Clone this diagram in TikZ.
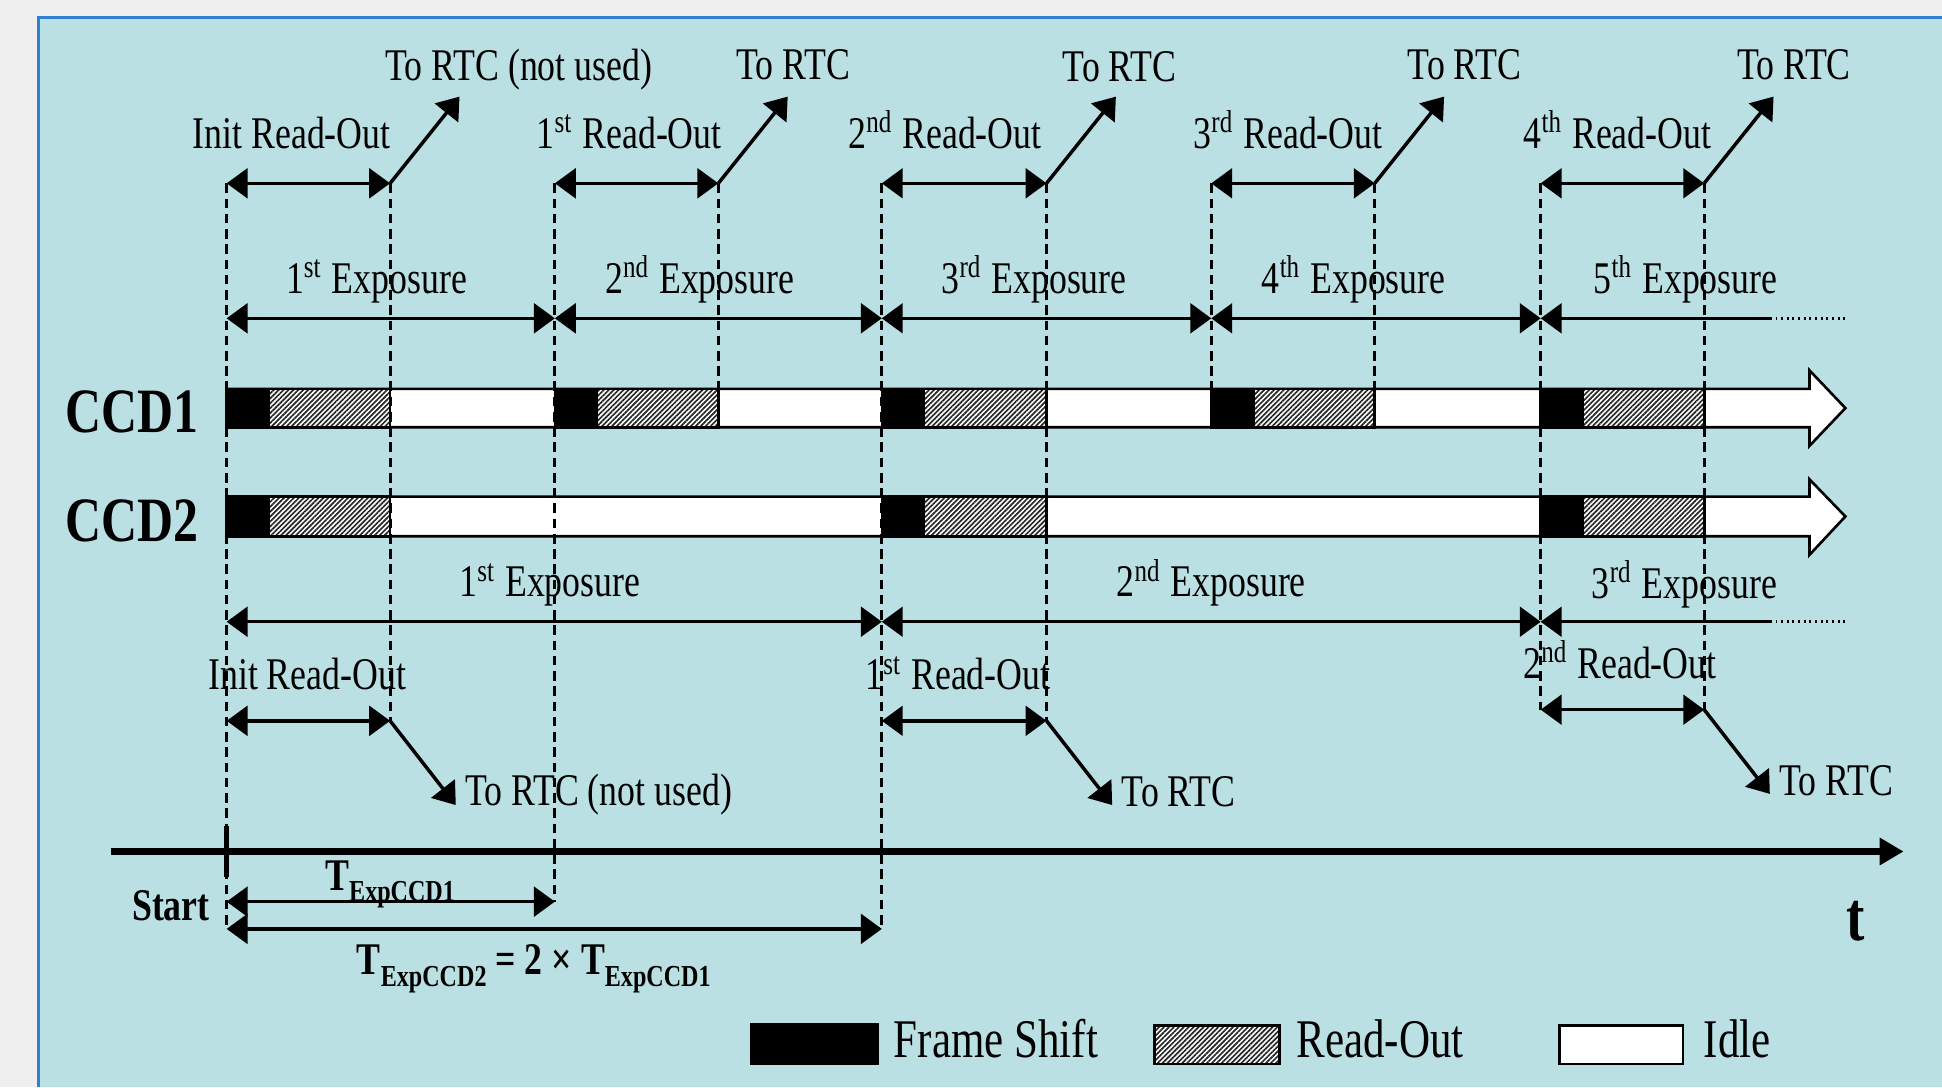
\documentclass[tikz,border=0pt]{standalone}
\usepackage{fontspec}
\setmainfont{Liberation Serif}[FakeStretch=0.79]
\usepackage{tikz}
\usetikzlibrary{arrows.meta, patterns.meta}

\definecolor{pageback}{HTML}{EFEFEF}
\definecolor{panelbg}{HTML}{BBE0E3}
\definecolor{panelline}{HTML}{2F80D0}

\newcommand{\expsub}[1]{\raisebox{-2.7pt}{\fontsize{7}{8}\selectfont #1}}

\begin{document}
\begin{tikzpicture}[
    x=0.01cm, y=-0.01cm,
    >={Triangle[length=4.8pt, width=6.8pt]},
    lbl/.style={
        anchor=base,
        inner sep=0pt,
        font=\fontsize{10.4}{12}\selectfont
    },
    boldlbl/.style={
        lbl,
        font=\fontsize{10.4}{12}\selectfont\bfseries
    },
    ccdlbl/.style={
        anchor=base east,
        inner sep=0pt,
        font=\fontsize{14.5}{17}\selectfont\bfseries
    },
    legtxt/.style={
        anchor=base west,
        inner sep=0pt,
        font=\fontsize{12.5}{15}\selectfont
    },
    span/.style={<->, line width=0.8pt},
    rtc/.style={->, line width=0.8pt},
    guide/.style={line width=0.7pt, dash pattern=on 2.2pt off 1.3pt},
    dots/.style={line width=0.7pt, dash pattern=on 0.45pt off 0.85pt},
    barline/.style={draw=black, line width=0.6pt},
    fshift/.style={barline, fill=black},
    rdout/.style={
        barline,
        preaction={fill=white},
        pattern={Lines[angle=45, distance=0.8pt, line width=0.38pt]},
        pattern color=black!85
    },
    idle/.style={barline, fill=white},
    taxis/.style={-{Triangle[length=5.5pt, width=6pt]}, line width=1.5pt}
]

% =============== FUNDO ===============
\useasboundingbox (0,0) rectangle (1568,878);
\fill[pageback] (0,0) rectangle (1568,878);
\fill[panelbg] (31,14) rectangle (1568,878);
\draw[panelline, line width=0.8pt] (31,878) -- (31,14) -- (1568,14);

% =============== CCD1 (topo) ===============

% Rótulos "To RTC"
\node[lbl] (rtc_top0) at (419,65) {To RTC (not used)};
\node[lbl] (rtc_top1) at (640.5,64) {To RTC};
\node[lbl] (rtc_top2) at (904,66) {To RTC};
\node[lbl] (rtc_top3) at (1182.5,64) {To RTC};
\node[lbl] (rtc_top4) at (1448.5,64) {To RTC};

% Rótulos das leituras
\node[lbl] (ro_top0) at (235.5,120) {Init Read-Out};
\node[lbl] (ro_top1) at (508,120) {1\textsuperscript{st} Read-Out};
\node[lbl] (ro_top2) at (763,120) {2\textsuperscript{nd} Read-Out};
\node[lbl] (ro_top3) at (1040,120) {3\textsuperscript{rd} Read-Out};
\node[lbl] (ro_top4) at (1306,120) {4\textsuperscript{th} Read-Out};

% Limites das leituras
\coordinate (a0) at (183,148);  \coordinate (b0) at (315,148);
\coordinate (a1) at (448,148);  \coordinate (b1) at (580,148);
\coordinate (a2) at (712,148);  \coordinate (b2) at (845,148);
\coordinate (a3) at (978,148);  \coordinate (b3) at (1110,148);
\coordinate (a4) at (1244,148); \coordinate (b4) at (1376,148);

% Pontas das setas para o RTC
\coordinate (up0) at (371,78);
\coordinate (up1) at (636,78);
\coordinate (up2) at (901,78);
\coordinate (up3) at (1166,78);
\coordinate (up4) at (1432,78);

\draw[span] (a0) -- (b0);
\draw[span] (a1) -- (b1);
\draw[span] (a2) -- (b2);
\draw[span] (a3) -- (b3);
\draw[span] (a4) -- (b4);

\draw[rtc] (b0) -- (up0);
\draw[rtc] (b1) -- (up1);
\draw[rtc] (b2) -- (up2);
\draw[rtc] (b3) -- (up3);
\draw[rtc] (b4) -- (up4);

% Exposições do CCD1
\node[lbl] (exp_top1) at (304,237) {1\textsuperscript{st} Exposure};
\node[lbl] (exp_top2) at (565,237) {2\textsuperscript{nd} Exposure};
\node[lbl] (exp_top3) at (835,237) {3\textsuperscript{rd} Exposure};
\node[lbl] (exp_top4) at (1093,237) {4\textsuperscript{th} Exposure};
\node[lbl] (exp_top5) at (1361,237) {5\textsuperscript{th} Exposure};

\coordinate (e0) at (183,257);
\coordinate (e1) at (448,257);
\coordinate (e2) at (712,257);
\coordinate (e3) at (978,257);
\coordinate (e4) at (1244,257);
\coordinate (e5) at (1429,257);
\coordinate (e6) at (1492,257);

\draw[span] (e0) -- (e1);
\draw[span] (e1) -- (e2);
\draw[span] (e2) -- (e3);
\draw[span] (e3) -- (e4);
\draw[<-, line width=0.8pt] (e4) -- (e5);
\draw[dots] (e5) -- (e6);

% Barra do CCD1
\node[ccdlbl] (ccd1) at (161,349) {CCD1};
\draw[idle] (183,314) -- (1461,314) -- (1461,299) -- (1490,329.5)
    -- (1461,360) -- (1461,345) -- (183,345) -- cycle;
\draw[fshift] (183,314) rectangle (217,345);
\draw[rdout] (217,314) rectangle (315,345);
\draw[fshift] (448,314) rectangle (482,345);
\draw[rdout] (482,314) rectangle (580,345);
\draw[fshift] (712,314) rectangle (746,345);
\draw[rdout] (746,314) rectangle (845,345);
\draw[fshift] (978,314) rectangle (1012,345);
\draw[rdout] (1012,314) rectangle (1110,345);
\draw[fshift] (1244,314) rectangle (1278,345);
\draw[rdout] (1278,314) rectangle (1376,345);

% =============== CCD2 (baixo) ===============

% Barra do CCD2
\node[ccdlbl] (ccd2) at (161,437) {CCD2};
\draw[idle] (183,401) -- (1461,401) -- (1461,387) -- (1490,417)
    -- (1461,448) -- (1461,433) -- (183,433) -- cycle;
\draw[fshift] (183,401) rectangle (217,433);
\draw[rdout] (217,401) rectangle (315,433);
\draw[fshift] (712,401) rectangle (746,433);
\draw[rdout] (746,401) rectangle (845,433);
\draw[fshift] (1244,401) rectangle (1278,433);
\draw[rdout] (1278,401) rectangle (1376,433);

% Exposições do CCD2
\node[lbl] (exp_bot1) at (444,482) {1\textsuperscript{st} Exposure};
\node[lbl] (exp_bot2) at (978,482) {2\textsuperscript{nd} Exposure};
\node[lbl] (exp_bot3) at (1360,483) {3\textsuperscript{rd} Exposure};

\coordinate (f0) at (183,502);
\coordinate (f1) at (712,502);
\coordinate (f2) at (1244,502);
\coordinate (f3) at (1429,502);
\coordinate (f4) at (1492,502);

\draw[span] (f0) -- (f1);
\draw[span] (f1) -- (f2);
\draw[<-, line width=0.8pt] (f2) -- (f3);
\draw[dots] (f3) -- (f4);

% Leituras do CCD2
\node[lbl] (ro_bot0) at (248,557) {Init Read-Out};
\node[lbl] (ro_bot1) at (773.5,557) {1\textsuperscript{st} Read-Out};
\node[lbl] (ro_bot2) at (1308,548) {2\textsuperscript{nd} Read-Out};

\coordinate (h0a) at (183,582);  \coordinate (h0b) at (315,582);
\coordinate (h1a) at (712,582);  \coordinate (h1b) at (845,582);
\coordinate (h2a) at (1244,573); \coordinate (h2b) at (1376,573);

\coordinate (dn0) at (368,650);
\coordinate (dn1) at (898,650);
\coordinate (dn2) at (1429,641);

\draw[span] (h0a) -- (h0b);
\draw[span] (h1a) -- (h1b);
\draw[span] (h2a) -- (h2b);

\draw[rtc] (h0b) -- (dn0);
\draw[rtc] (h1b) -- (dn1);
\draw[rtc] (h2b) -- (dn2);

\node[lbl, anchor=base west] (rtc_bot0) at (375,650) {To RTC (not used)};
\node[lbl, anchor=base west] (rtc_bot1) at (905,651) {To RTC};
\node[lbl, anchor=base west] (rtc_bot2) at (1436,642) {To RTC};

% =============== EIXO DO TEMPO ===============

\coordinate (ax0) at (90,687.5);
\coordinate (ax1) at (1537,687.5);
\coordinate (tk0) at (183,667);
\coordinate (tk1) at (183,708);

\draw[taxis] (ax0) -- (ax1);
\draw[line width=1pt] (tk0) -- (tk1);

\node[boldlbl, anchor=base east] (start) at (170,743) {Start};
\node[lbl, font=\fontsize{16}{19}\selectfont\bfseries] (tlbl) at (1498,759) {t};

% Períodos de exposição
\coordinate (s1a) at (183,728); \coordinate (s1b) at (448,728);
\coordinate (s2a) at (183,750); \coordinate (s2b) at (712,750);

\draw[span] (s1a) -- (s1b);
\draw[span] (s2a) -- (s2b);

\node[boldlbl] (texp1) at (315,718.6) {T\expsub{ExpCCD1}};
\node[boldlbl] (texp2) at (431,787) {T\expsub{ExpCCD2} = 2 × T\expsub{ExpCCD1}};

% =============== LINHAS GUIA ===============

\coordinate (cut1) at (580,345);
\coordinate (cut3) at (978,345);
\coordinate (cut4) at (1110,345);

\draw[guide] (a0) -- (s2a);
\draw[guide] (b0) -- (h0b);
\draw[guide] (a1) -- (s1b);
\draw[guide] (b1) -- (cut1);
\draw[guide] (a2) -- (s2b);
\draw[guide] (b2) -- (h1b);
\draw[guide] (a3) -- (cut3);
\draw[guide] (b3) -- (cut4);
\draw[guide] (a4) -- (h2a);
\draw[guide] (b4) -- (h2b);

% =============== LEGENDA ===============

\draw[fshift] (607,827) rectangle (709,859);
\node[legtxt] (leg_fs) at (721,854) {Frame Shift};
\draw[rdout] (932,828) rectangle (1033,859);
\node[legtxt] (leg_ro) at (1046,854) {Read-Out};
\draw[idle] (1259,828) rectangle (1359,859);
\node[legtxt] (leg_idle) at (1375,854) {Idle};

\end{tikzpicture}
\end{document}
